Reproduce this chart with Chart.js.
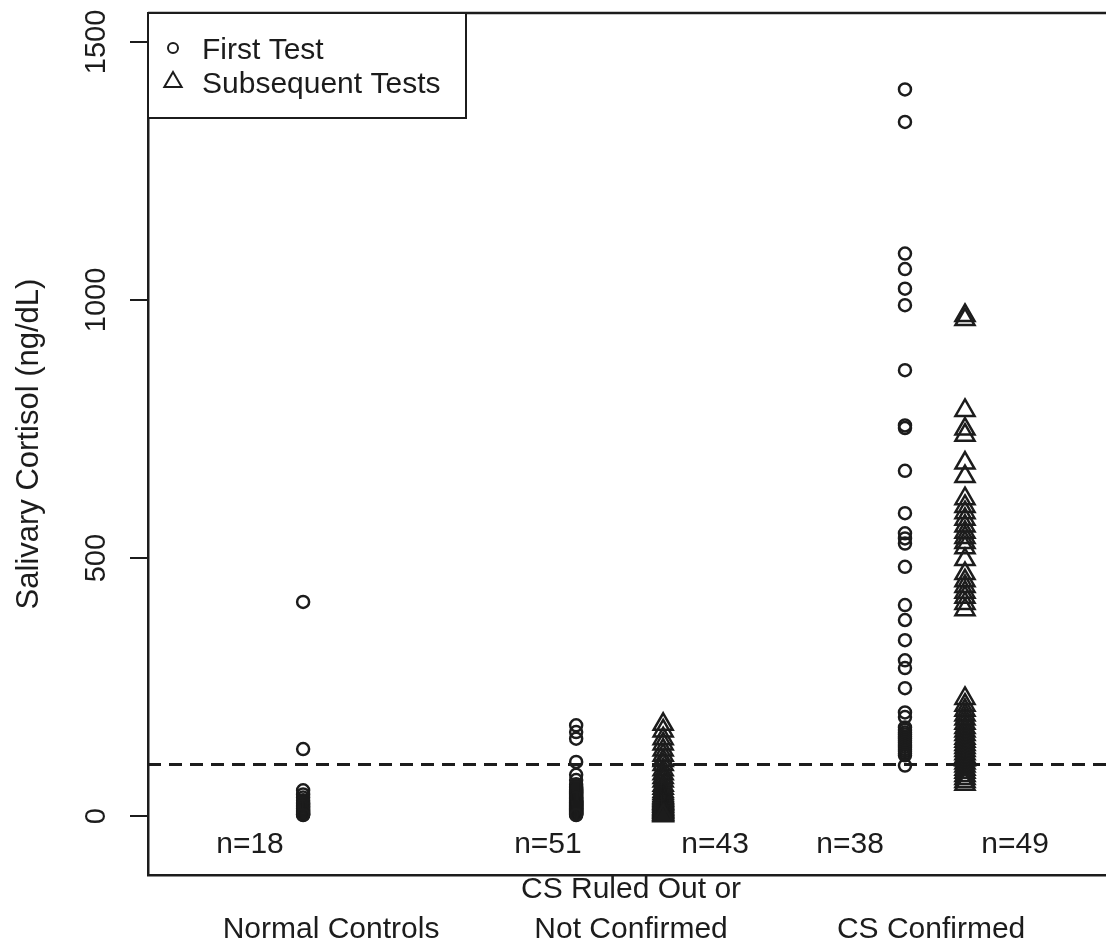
<!DOCTYPE html>
<html>
<head>
<meta charset="utf-8">
<title>Salivary cortisol</title>
<script src="https://cdn.jsdelivr.net/npm/chart.js@4.4.1/dist/chart.umd.min.js"></script>
<style>
  body { margin: 0; background: #fff; }
  canvas { display: block; }
</style>
</head>
<body>
<canvas id="cortisol" width="1106" height="950"></canvas>
<script>
// groups and series
const categories = ['Normal Controls', 'CS Ruled Out or\nNot Confirmed', 'CS Confirmed'];
const seriesNames = ['First Test', 'Subsequent Tests'];
const yTicks = [0, 500, 1000, 1500];
const cutoff = 100;

// salivary cortisol, ng/dL
const normalFirst = [415, 130, 50, 42, 36, 31, 27, 24, 21, 18, 15, 12, 10, 8, 6, 4, 3, 2];
const ruledOutFirst = [176, 163, 150, 105,
  80, 70, 62, 58, 55, 52, 50, 48, 46, 44, 42, 40, 38, 36, 35, 34, 32, 31, 30, 29,
  28, 27, 26, 25, 24, 23, 22, 21, 20, 19, 18, 17, 16, 15, 14, 13, 12, 11, 10, 9,
  8, 7, 6, 5, 4, 3, 2];
const ruledOutLater = [178, 165, 150, 140, 128, 118, 108, 100, 90, 82, 75, 68, 60, 54, 48, 44, 40,
  37, 35, 33, 31, 30, 28, 26, 25, 23, 22, 20, 19, 17, 16, 14, 13, 12, 10, 9, 8, 7, 5, 4, 3, 2, 1];
const confirmedFirst = [1408, 1345, 1090, 1060, 1022, 990, 864, 757, 752, 669, 587, 548, 538, 528,
  483, 409, 380, 341, 302, 287, 248, 201, 192,
  172, 167, 162, 158, 154, 150, 146, 142, 138, 134, 130, 126, 122, 118, 98];
const confirmedLater = [970, 962, 786, 750, 738, 684, 658, 615, 600, 588, 575, 562, 550, 540, 530,
  520, 497, 470, 456, 445, 434, 424, 412, 400,
  228, 215, 205, 196, 188, 180, 172, 165, 158, 151, 145, 139, 133, 127, 121, 115, 109, 103, 97,
  91, 85, 79, 73, 67, 62];

// strip placement along the x axis (group centres sit at 1, 2, 3)
const strips = [
  { values: normalFirst, series: 0, x: 0.907, nx: 0.73 },
  { values: ruledOutFirst, series: 0, x: 1.817, nx: 1.723 },
  { values: ruledOutLater, series: 1, x: 2.107, nx: 2.28 },
  { values: confirmedFirst, series: 0, x: 2.913, nx: 2.73 },
  { values: confirmedLater, series: 1, x: 3.113, nx: 3.28 }
];

const ink = '#1c1c1c';
const font = 'Liberation Sans, Arial, Helvetica, sans-serif';
const xMin = 0.39, xMax = 3.583;
const symbols = ['circle', 'triangle'];
const symbolSize = [6, 11];

const datasets = strips.map(s => ({
  type: 'scatter',
  label: seriesNames[s.series],
  data: s.values.map(v => ({ x: s.x, y: v })),
  pointStyle: symbols[s.series],
  pointRadius: symbolSize[s.series],
  pointBorderWidth: 2.5,
  pointBorderColor: ink,
  pointBackgroundColor: 'rgba(0,0,0,0)',
  pointHoverRadius: symbolSize[s.series]
}));

datasets.push({
  type: 'line',
  label: 'cutoff',
  data: [{ x: xMin, y: cutoff }, { x: xMax, y: cutoff }],
  borderColor: ink,
  borderWidth: 3,
  borderDash: [13, 8],
  pointRadius: 0,
  fill: false
});

// frame top, legend box and n= counts
const extras = {
  id: 'extras',
  afterDraw(chart) {
    const ctx = chart.ctx;
    const area = chart.chartArea;
    const xs = chart.scales.x, ys = chart.scales.y;
    ctx.save();
    ctx.strokeStyle = ink;
    ctx.lineWidth = 2.5;
    ctx.beginPath();
    ctx.moveTo(area.left, area.top);
    ctx.lineTo(area.right, area.top);
    ctx.stroke();

    // legend
    ctx.lineWidth = 2;
    ctx.fillStyle = '#fff';
    ctx.fillRect(area.left, area.top, 318, 105);
    ctx.strokeRect(area.left, area.top, 318, 105);
    ctx.fillStyle = ink;
    ctx.font = '30px ' + font;
    ctx.textBaseline = 'middle';
    ctx.textAlign = 'left';
    const rows = [48, 82];
    seriesNames.forEach((name, i) => {
      const cy = rows[i];
      ctx.beginPath();
      if (symbols[i] === 'circle') {
        ctx.arc(173, cy, 5, 0, Math.PI * 2);
      } else {
        const r = 10;
        ctx.moveTo(173, cy - r);
        ctx.lineTo(173 + r * 0.866, cy + r * 0.5);
        ctx.lineTo(173 - r * 0.866, cy + r * 0.5);
        ctx.closePath();
      }
      ctx.stroke();
      ctx.fillText(name, 202, cy + 3);
    });

    // sample counts
    ctx.textAlign = 'center';
    strips.forEach(s => {
      ctx.fillText('n=' + s.values.length, xs.getPixelForValue(s.nx), ys.getPixelForValue(-56));
    });
    ctx.restore();
  }
};

new Chart(document.getElementById('cortisol'), {
  data: { datasets },
  options: {
    responsive: false,
    animation: false,
    devicePixelRatio: 1,
    layout: { autoPadding: false, padding: { top: 13, right: 0, bottom: 0, left: 0 } },
    plugins: { legend: { display: false }, tooltip: { enabled: false } },
    scales: {
      x: {
        type: 'linear',
        min: xMin,
        max: xMax,
        afterBuildTicks(scale) { scale.ticks = categories.map((c, i) => ({ value: i + 1 })); },
        afterFit(scale) {
          scale.height = 75;
          scale.paddingLeft = 0;
          scale.paddingRight = 0;
        },
        grid: { display: false, drawTicks: false },
        border: { display: true, color: ink, width: 2.5 },
        ticks: {
          autoSkip: false,
          maxRotation: 0,
          padding: -5,
          color: ink,
          font: { family: font, size: 30, lineHeight: '40px' },
          callback(v, i) {
            const lines = categories[i].split('\n');
            return lines.length > 1 ? lines : ['', lines[0]];
          }
        }
      },
      y: {
        type: 'linear',
        min: -114,
        max: 1556,
        afterBuildTicks(scale) { scale.ticks = yTicks.map(v => ({ value: v })); },
        afterFit(scale) {
          scale.width = 148;
          scale.paddingTop = 0;
          scale.paddingBottom = 0;
        },
        grid: { drawOnChartArea: false, drawTicks: true, tickLength: 18, color: ink, lineWidth: 2 },
        border: { display: true, color: ink, width: 2.5 },
        ticks: {
          autoSkip: false,
          minRotation: 90,
          maxRotation: 90,
          crossAlign: 'center',
          padding: 1,
          color: ink,
          font: { family: font, size: 29 },
          callback: v => String(v)
        },
        title: {
          display: true,
          text: 'Salivary Cortisol (ng/dL)',
          color: ink,
          font: { family: font, size: 31 },
          padding: { top: 11, bottom: 0 }
        }
      }
    }
  },
  plugins: [extras]
});
</script>
</body>
</html>
